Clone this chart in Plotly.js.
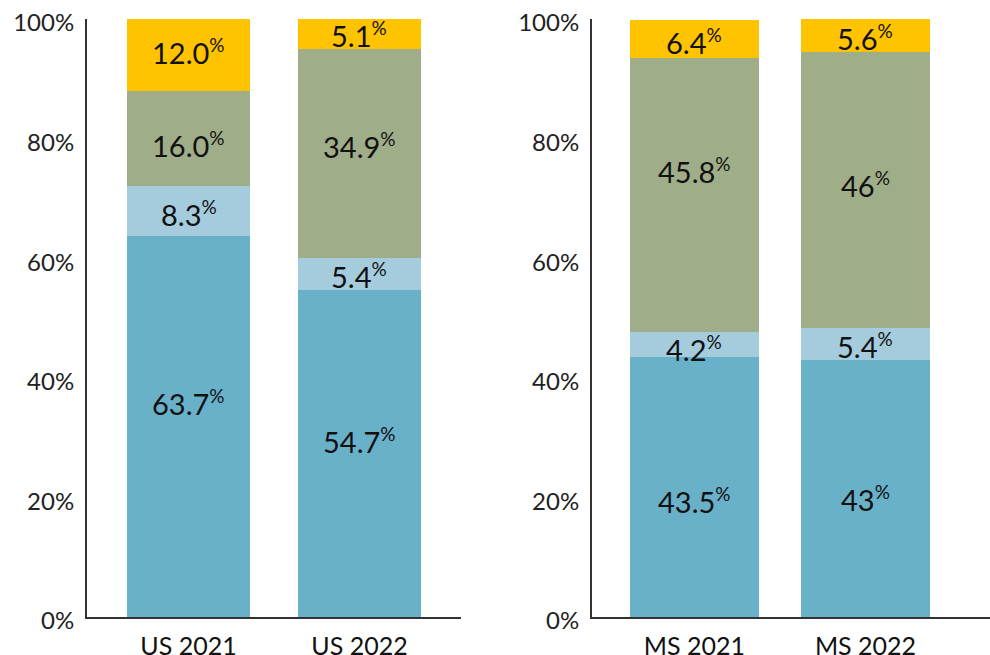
<!DOCTYPE html>
<html>
<head>
<meta charset="utf-8">
<script src="https://cdn.plot.ly/plotly-3.0.1.min.js"></script>
<style>
  html, body { margin: 0; padding: 0; background: #fff; }
  #chart { width: 990px; height: 655px; }
</style>
</head>
<body>
<div id="chart"></div>
<script>
// categories
const usCats = ['US 2021', 'US 2022'];
const msCats = ['MS 2021', 'MS 2022'];

// shares (%), bottom to top
const usBase = [63.7, 54.7];
const usLight = [8.3, 5.4];
const usGreen = [16.0, 34.9];
const usYellow = [12.0, 5.1];

const msBase = [43.5, 43];
const msLight = [4.2, 5.4];
const msGreen = [45.8, 46];
const msYellow = [6.4, 5.6];

const yTicks = [0, 20, 40, 60, 80, 100];

// styling
const colors = ['#69b0c9', '#a4ccdd', '#a0ad89', '#ffc300'];
const fontFam = 'Lato, "Open Sans", sans-serif';

// label offsets in px (positive = down), same order as the stacks
const usNudge = [[-24, 2, 6, -3], [-13, 2, -8, 1]];
const msNudge = [[14, 4, -24, 3], [10, 2, -6, 2]];

function buildPanel(cats, stacks, xa, ya, barWidth, fmt, nudge) {
  const traces = [];
  const notes = [];
  const cum = cats.map(() => 0);
  stacks.forEach((vals, s) => {
    traces.push({
      type: 'bar',
      x: cats,
      y: vals,
      xaxis: xa,
      yaxis: ya,
      width: barWidth,
      marker: { color: colors[s], line: { width: 0 } },
      hoverinfo: 'skip',
      showlegend: false
    });
    vals.forEach((v, i) => {
      notes.push({
        x: cats[i],
        y: cum[i] + v / 2,
        xref: xa,
        yref: ya,
        text: fmt(v) + "<sup><span style='font-size:19px'>%</span></sup>",
        showarrow: false,
        yshift: -nudge[i][s],
        font: { family: fontFam, size: 29, color: '#111' }
      });
      cum[i] += v;
    });
  });
  return { traces, notes };
}

const left = buildPanel(usCats, [usBase, usLight, usGreen, usYellow], 'x', 'y', 0.72,
  v => v.toFixed(1), usNudge);
const right = buildPanel(msCats, [msBase, msLight, msGreen, msYellow], 'x2', 'y2', 0.754,
  v => String(v), msNudge);

const yAxisBase = {
  range: [0, 100],
  tickvals: yTicks,
  ticktext: yTicks.map(t => t + '%'),
  showgrid: false,
  zeroline: false,
  showline: true,
  linecolor: '#333',
  linewidth: 2,
  ticks: '',
  ticklabelstandoff: 6,
  ticklabelshift: 4,
  tickfont: { family: fontFam, size: 24, color: '#222' },
  fixedrange: true
};

const xAxisBase = {
  type: 'category',
  showgrid: false,
  zeroline: false,
  showline: true,
  linecolor: '#333',
  linewidth: 2,
  ticks: '',
  ticklabelstandoff: 6,
  tickfont: { family: fontFam, size: 25, color: '#111' },
  fixedrange: true
};

const layout = {
  width: 990,
  height: 655,
  margin: { l: 0, r: 0, t: 19, b: 38 },
  paper_bgcolor: '#fff',
  plot_bgcolor: '#fff',
  barmode: 'stack',
  xaxis: Object.assign({}, xAxisBase, { domain: [87 / 990, 461 / 990], range: [-0.594, 1.594], anchor: 'y' }),
  yaxis: Object.assign({}, yAxisBase, { domain: [0, 1], anchor: 'x' }),
  xaxis2: Object.assign({}, xAxisBase, { domain: [592 / 990, 1], range: [-0.599, 1.728], anchor: 'y2' }),
  yaxis2: Object.assign({}, yAxisBase, { domain: [0, 1], anchor: 'x2' }),
  annotations: left.notes.concat(right.notes)
};

Plotly.newPlot('chart', left.traces.concat(right.traces), layout, { displayModeBar: false, staticPlot: true });
</script>
</body>
</html>
